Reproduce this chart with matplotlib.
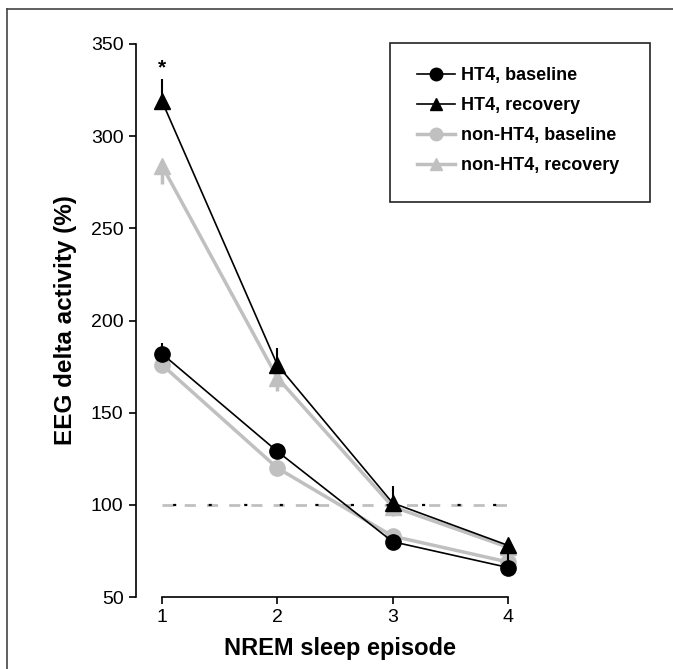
import matplotlib
matplotlib.use("Agg")
import matplotlib.pyplot as plt
from matplotlib.lines import Line2D
from matplotlib.patches import Rectangle
import numpy as np

plt.rcParams['font.family'] = ['Liberation Sans Narrow', 'Liberation Sans', 'DejaVu Sans']

episodes = [1, 2, 3, 4]
ht4_baseline = [182, 129, 80, 66]
ht4_baseline_err = [6, 4, 3, 9]
ht4_recovery = [319, 176, 101, 78]
ht4_recovery_err = [12, 9, 9, 0]
non_baseline = [176, 120, 83, 69]
non_baseline_err = [3, 3, 3, 3]
non_recovery = [284, 169, 99, 77]
non_recovery_err = [10, 7, 5, 5]
labels = ["HT4, baseline", "HT4, recovery", "non-HT4, baseline", "non-HT4, recovery"]
yticks = [50, 100, 150, 200, 250, 300, 350]
ref_level = 100

BLACK = "#000000"
GRAY = "#c0c0c0"

fig = plt.figure(figsize=(6.73, 6.69), dpi=100)
ax = fig.add_axes([136/673, 1-597/669, (508-136)/673, (597-44)/669])

x = np.array(episodes)
# reference line
ax.plot([episodes[0], episodes[-1]], [ref_level]*2, color=GRAY, lw=2, linestyle=(0, (4, 4)), zorder=1)
ax.plot([episodes[0], episodes[-1]], [ref_level]*2, color=BLACK, lw=1.6, linestyle=(-5.0, (1.4, 14.6)), zorder=1.1)

ms = 11
# gray series (errors downward)
ax.errorbar(x, non_recovery, yerr=[non_recovery_err, [0]*4], color=GRAY, lw=2.5, marker='^', ms=ms,
            elinewidth=2.5, capsize=0, zorder=2, clip_on=False)
ax.errorbar(x, non_baseline, yerr=[non_baseline_err, [0]*4], color=GRAY, lw=2.5, marker='o', ms=ms,
            elinewidth=2.5, capsize=0, zorder=2, clip_on=False)
# black series (errors upward)
ax.errorbar(x, ht4_baseline, yerr=[[0]*4, ht4_baseline_err], color=BLACK, lw=1.2, marker='o', ms=ms,
            elinewidth=1.5, capsize=0, zorder=3, clip_on=False)
ax.errorbar(x, ht4_recovery, yerr=[[0]*4, ht4_recovery_err], color=BLACK, lw=1.2, marker='^', ms=ms,
            elinewidth=1.5, capsize=0, zorder=3, clip_on=False)

ax.text(1, ht4_recovery[0] + ht4_recovery_err[0] + 1, '*', ha='center', va='bottom', fontsize=15,
        fontweight='bold', family=['Liberation Sans', 'DejaVu Sans'])

ax.set_xlim(0.775, 4.0)
ax.set_ylim(50, 350)
ax.set_xticks(episodes)
ax.set_yticks(yticks)
for s in ['top', 'right']:
    ax.spines[s].set_visible(False)
ax.spines['bottom'].set_bounds(1, 4)
ax.spines['left'].set_bounds(50, 350)
for s in ['bottom', 'left']:
    ax.spines[s].set_linewidth(1.2)
ax.tick_params(axis='both', direction='out', length=5, width=1.2, labelsize=14, pad=4)
ax.set_xlabel("NREM sleep episode", fontsize=17, fontweight='bold')
ax.xaxis.set_label_coords((340-136)/(508-136), -(648-597)/(597-44))
ax.xaxis.label.set_va('center')
ax.set_ylabel("EEG delta activity (%)", fontsize=17.5, fontweight='bold', labelpad=10)

# legend
handles = [
    Line2D([], [], color=BLACK, lw=1.2, marker='o', ms=9),
    Line2D([], [], color=BLACK, lw=1.2, marker='^', ms=9),
    Line2D([], [], color=GRAY, lw=2.5, marker='o', ms=9),
    Line2D([], [], color=GRAY, lw=2.5, marker='^', ms=9),
]
fig.patches.append(Rectangle((390/673, 1-202/669), 260/673, 159/669, transform=fig.transFigure,
                             fill=False, edgecolor='#222222', lw=1.2))
leg = fig.legend(handles, labels, loc='upper left', bbox_to_anchor=(417/673, 1-67/669),
                 frameon=False, prop={'weight': 'bold', 'size': 13, 'family': ['Liberation Sans', 'DejaVu Sans']},
                 handlelength=2.1, handletextpad=0.35, labelspacing=0.72, borderpad=0, borderaxespad=0)

# outer partial frame
fig.add_artist(Line2D([7/673, 1], [1-9/669]*2, transform=fig.transFigure, color='#444444', lw=1.2))
fig.add_artist(Line2D([7/673]*2, [0, 1-9/669], transform=fig.transFigure, color='#444444', lw=1.2))

fig.savefig("out.png", dpi=100)
